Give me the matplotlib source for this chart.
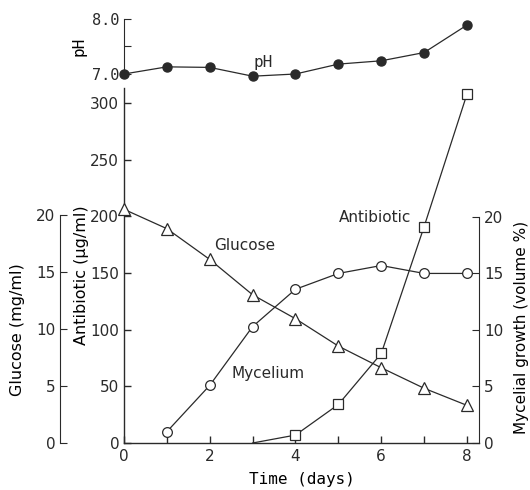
import matplotlib
matplotlib.use("Agg")
import matplotlib.pyplot as plt
import numpy as np

# ---- data ----
days = [0, 1, 2, 3, 4, 5, 6, 7, 8]
ph = [7.0, 7.13, 7.12, 6.96, 7.0, 7.18, 7.24, 7.39, 7.89]
glucose_days = [0, 1, 2, 3, 4, 5, 6, 7, 8]
glucose = [20.5, 18.8, 16.1, 13.0, 10.9, 8.5, 6.6, 4.8, 3.3]          # mg/ml
mycelium_days = [1, 2, 3, 4, 5, 6, 7, 8]
mycelium = [1.0, 5.1, 10.3, 13.6, 15.0, 15.7, 15.0, 15.0]              # volume %
antibiotic_days = [3, 4, 5, 6, 7, 8]
antibiotic = [0, 7, 34, 79, 191, 308]                                  # ug/ml

W, H = 530, 490
fig = plt.figure(figsize=(W / 100, H / 100), dpi=100)
lc = "#2a2a2a"
plt.rcParams["text.color"] = lc

def fx(px):
    return px / W

def fy(py):
    return 1 - py / H

L, R = 124, 479
main_bot, main_top = 443, 88

def ax_x(px):
    return (px - L) / (R - L)

def ax_y(py):
    return (main_bot - py) / (main_bot - main_top)

ax = fig.add_axes([fx(L), fy(main_bot), fx(R - L), fy(main_top) - fy(main_bot)])
ax.set_xlim(0, 8.28)
ax.set_ylim(0, (main_bot - main_top) / 1.133)
for s in ["top", "right"]:
    ax.spines[s].set_visible(False)
for s in ["left", "bottom"]:
    ax.spines[s].set_color(lc)
    ax.spines[s].set_linewidth(1.0)
ax.set_xticks(days)
ax.set_xticklabels([str(d) if d % 2 == 0 else "" for d in days])
ax.set_yticks([0, 50, 100, 150, 200, 250, 300])
ax.tick_params(direction="in", length=5, colors=lc, labelsize=11, width=1.0)
ax.tick_params(axis="x", pad=4)
ax.set_xlabel("Time (days)", fontsize=11.5, family="DejaVu Sans Mono", labelpad=6)
ax.set_ylabel("Antibiotic (\u03bcg/ml)", fontsize=11.5)
ax.yaxis.set_label_coords(ax_x(89), ax_y(275))
ax.plot(antibiotic_days, antibiotic, color=lc, lw=0.9, marker="s", ms=6.5,
        mfc="white", mec=lc, mew=0.9, markevery=list(range(1, len(antibiotic_days))),
        clip_on=False, zorder=3)

# glucose axis (far left)
px_per = 11.4
axg = ax.twinx()
axg.set_ylim(0, (main_bot - main_top) / px_per)
axg.yaxis.set_ticks_position("left")
axg.yaxis.set_label_position("left")
for s in ["top", "right", "bottom"]:
    axg.spines[s].set_visible(False)
axg.spines["left"].set_position(("axes", ax_x(60)))
axg.spines["left"].set_bounds(0, 20)
axg.spines["left"].set_color(lc)
axg.set_yticks([0, 5, 10, 15, 20])
axg.tick_params(direction="in", length=5, colors=lc, labelsize=11)
axg.set_ylabel("Glucose (mg/ml)", fontsize=11.5)
axg.yaxis.set_label_coords(ax_x(25), ax_y(330))
axg.plot(glucose_days, glucose, color=lc, lw=0.9, marker="^", ms=8,
         mfc="white", mec=lc, mew=0.9, clip_on=False, zorder=3)

# mycelial growth axis (right)
axm = ax.twinx()
axm.set_ylim(3 / px_per, (446 - main_top) / px_per)
for s in ["top", "left", "bottom"]:
    axm.spines[s].set_visible(False)
axm.spines["right"].set_bounds(0, 20)
axm.spines["right"].set_color(lc)
axm.set_yticks([0, 5, 10, 15, 20])
axm.tick_params(direction="in", length=5, colors=lc, labelsize=11)
axm.set_ylabel("Mycelial growth (volume %)", fontsize=11)
axm.yaxis.set_label_coords(ax_x(514), ax_y(327))
axm.plot(mycelium_days, mycelium, color=lc, lw=0.9, marker="o", ms=7,
         mfc="white", mec=lc, mew=0.9, clip_on=False, zorder=3)

# pH panel
axp = fig.add_axes([fx(L), fy(74), fx(R - L), fy(19) - fy(74)])
axp.set_xlim(0, 8.28)
axp.set_ylim(7.0, 8.0)
for s in ["top", "right", "bottom"]:
    axp.spines[s].set_visible(False)
axp.spines["left"].set_color(lc)
axp.set_xticks([])
axp.set_yticks([7.0, 7.5, 8.0])
axp.set_yticklabels(["7.0", "", "8.0"], family="DejaVu Sans Mono")
axp.tick_params(direction="in", length=5, colors=lc, labelsize=11)
axp.set_ylabel("pH", fontsize=11.5, family="DejaVu Sans Mono", labelpad=4)
axp.plot(days, ph, color=lc, lw=0.9, marker="o", ms=6.5, mfc=lc, mec=lc,
         clip_on=False, zorder=3)
axp.patch.set_alpha(0)

# in-plot labels
fig.text(fx(263), fy(63), "pH", fontsize=11.5, family="DejaVu Sans Mono",
         ha="center", va="center")
fig.text(fx(245), fy(245), "Glucose", fontsize=11, ha="center", va="center")
fig.text(fx(375), fy(217), "Antibiotic", fontsize=11, ha="center", va="center")
fig.text(fx(268), fy(373), "Mycelium", fontsize=11, ha="center", va="center")

fig.savefig("out.png", dpi=100)
